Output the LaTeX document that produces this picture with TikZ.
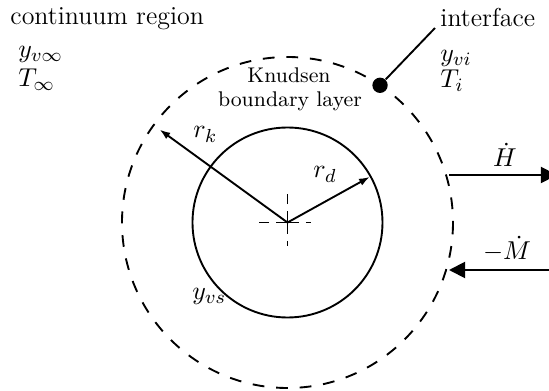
\documentclass[tikz,border=0pt]{standalone}
\usetikzlibrary{arrows.meta,calc}
\begin{document}
\begin{tikzpicture}[x=0.4237pt,y=-0.4237pt,
  lw/.style={line width=0.8pt},
  dashcirc/.style={lw,dash pattern=on 5pt off 5pt},
  crossline/.style={lw,dash pattern=on 5pt off 2.8pt},
  radarrow/.style={lw,-{Latex[length=4.5pt,width=3.2pt]}},
  fluxarrow/.style={lw,-{Triangle[length=6.8pt,width=6.8pt]}},
  lbl/.style={inner sep=0pt,anchor=base west,font=\fontsize{11}{13.5}\selectfont},
  clbl/.style={inner sep=0pt,anchor=base,font=\fontsize{11}{13.5}\selectfont},
  ]
\useasboundingbox (0,0) rectangle (549,391);
\coordinate (C) at (287.5,222.5);
% circles
\draw[lw] (C) circle[radius=95];
\draw[dashcirc] (C) circle[radius=165.5];
% centre cross
\coordinate (cl) at ($(C)+(-28,0)$);
\coordinate (cr) at ($(C)+(24,0)$);
\coordinate (ct) at ($(C)+(0,-28)$);
\coordinate (cb) at ($(C)+(0,24)$);
\draw[crossline] (C) -- (cl);
\draw[crossline] (C) -- (cr);
\draw[crossline] (C) -- (ct);
\draw[crossline] (C) -- (cb);
% radii
\coordinate (rd) at ($(C)+(-29:94)$);
\coordinate (rk) at ($(C)+(-144:158)$);
\draw[radarrow] (C) -- (rd);
\draw[radarrow] (C) -- (rk);
% interface dot
\node[circle,fill,inner sep=0pt,minimum size=6.5pt] (dot) at ($(C)+(-56:165.5)$) {};
\coordinate (ifc) at (435,28);
\draw[lw] (dot) -- (ifc);
% flux arrows
\coordinate (hs) at (449,175);
\coordinate (he) at (557,175);
\draw[fluxarrow] (hs) -- (he);
\coordinate (ms) at (557,270);
\coordinate (me) at (449,270);
\draw[fluxarrow] (ms) -- (me);
% labels
\node[lbl] (creg) at (10,25) {continuum region};
\node[lbl] (yinf) at (18,58) {$y_{v\infty}$};
\node[lbl] (Tinf) at (18,87) {$T_\infty$};
\node[lbl] (itf) at (440,27) {interface};
\node[lbl] (yvi) at (440,62) {$y_{vi}$};
\node[lbl] (Ti) at (440,88) {$T_i$};
\node[clbl,font=\small] (kn1) at (289,82) {Knudsen};
\node[clbl,font=\small] (kn2) at (290,107) {boundary layer};
\node[lbl] (rkl) at (193,138) {$r_k$};
\node[lbl] (rdl) at (313,178) {$r_d$};
\node[lbl] (yvs) at (192,300) {$y_{vs}$};
\node[clbl] (Hl) at (505,167) {$\dot H$};
\node[clbl] (Ml) at (507,260) {$-\dot M$};
\end{tikzpicture}
\end{document}
